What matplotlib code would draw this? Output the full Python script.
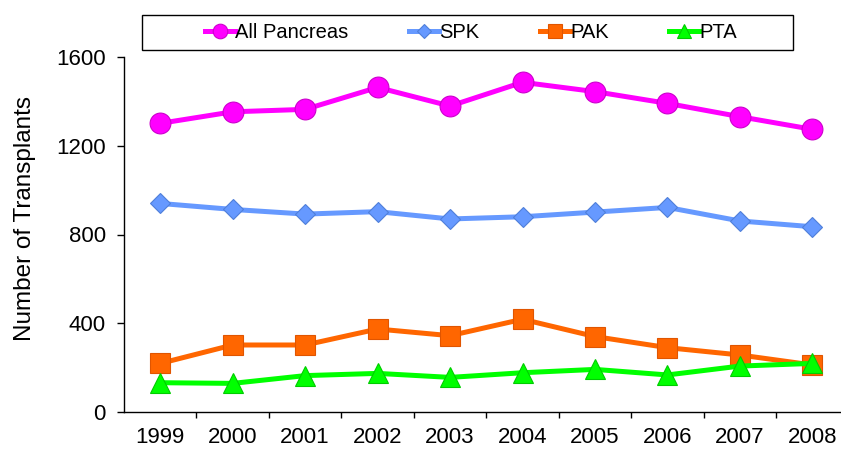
import matplotlib
matplotlib.use("Agg")
import matplotlib.pyplot as plt
from matplotlib.ticker import FixedLocator
from matplotlib.patches import Rectangle

plt.rcParams['font.family'] = ['Liberation Sans', 'DejaVu Sans']

years = ['1999', '2000', '2001', '2002', '2003', '2004', '2005', '2006', '2007', '2008']
all_pancreas = [1301, 1353, 1364, 1463, 1379, 1486, 1444, 1391, 1331, 1274]
spk = [940, 913, 892, 903, 870, 880, 901, 922, 861, 835]
pak = [219, 302, 302, 374, 344, 418, 340, 290, 257, 212]
pta = [132, 129, 164, 174, 156, 177, 192, 167, 207, 219]
yticks = [0, 400, 800, 1200, 1600]

W, H = 841, 450
fig = plt.figure(figsize=(W/100, H/100), dpi=100)
ax = fig.add_axes([124/W, 1-412/H, (848.6-124)/W, (412-57)/H])

x = list(range(len(years)))
l1, = ax.plot(x, all_pancreas, color='#FF00FF', lw=3.6, marker='o', ms=15,
              mfc='#FF00FF', mec='#CC00CC', mew=0.8, label='All Pancreas', zorder=5)
l2, = ax.plot(x, spk, color='#6699FF', lw=3.6, marker='D', ms=10.5,
              mfc='#6699FF', mec='#4F7FD9', mew=0.8, label='SPK', zorder=4)
l3, = ax.plot(x, pak, color='#FF6600', lw=3.6, marker='s', ms=14.5,
              mfc='#FF6600', mec='#E05500', mew=0.8, label='PAK', zorder=3)
l4, = ax.plot(x, pta, color='#00FF00', lw=3.6, marker='^', ms=15,
              mfc='#00FF00', mec='#00CC00', mew=0.8, label='PTA', zorder=6)

ax.set_xlim(-0.5, len(years) - 0.5)
ax.set_ylim(0, 1600)
ax.set_yticks(yticks)
ax.set_yticklabels([str(v) for v in yticks])
ax.set_xticks(x)
ax.set_xticklabels(years)
ax.xaxis.set_minor_locator(FixedLocator([i + 0.5 for i in range(len(years) - 1)]))
ax.tick_params(axis='x', which='major', length=0, pad=11, labelsize=16)
ax.tick_params(axis='x', which='minor', length=4.5, width=1, direction='out')
ax.tick_params(axis='y', length=5, width=1, direction='out', labelsize=16, pad=8)
for s in ['top', 'right']:
    ax.spines[s].set_visible(False)
for s in ['left', 'bottom']:
    ax.spines[s].set_linewidth(1)
ax.set_ylabel('Number of Transplants', fontsize=17.5)
ax.yaxis.set_label_coords(-0.122, 0.546)

# legend frame box
fig.patches.append(Rectangle((142/W, 1-50/H), (793-142)/W, 35/H,
                             transform=fig.transFigure, fill=False,
                             edgecolor='black', linewidth=1))
leg = fig.legend(handles=[l1, l2, l3, l4], loc='center',
                 bbox_to_anchor=(471/W, 1-32.5/H), ncol=4,
                 fontsize=14.5, frameon=False,
                 handlelength=1.5, handletextpad=0.0, columnspacing=3.0,
                 borderpad=0.3, markerscale=0.7)

fig.savefig('out.png', dpi=100)
